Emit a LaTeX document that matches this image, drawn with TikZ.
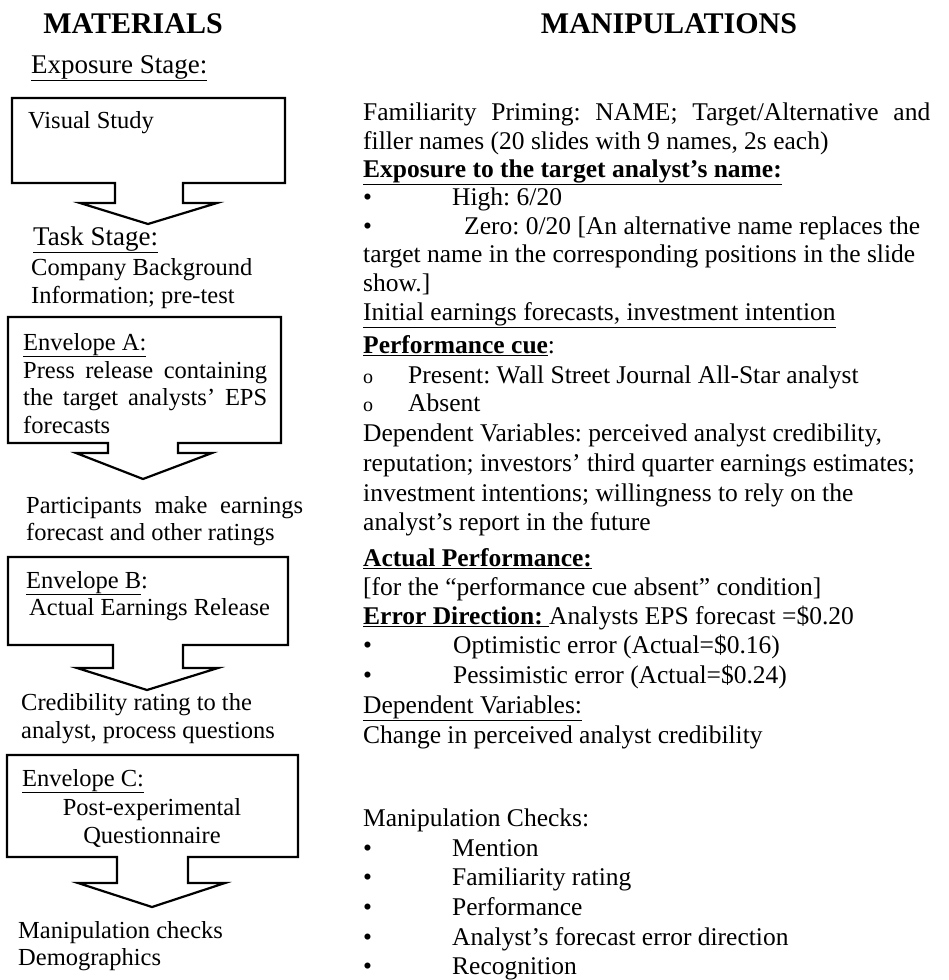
\documentclass[tikz,border=0pt]{standalone}
\usepackage{fontspec}
\setmainfont{Liberation Serif}
\frenchspacing
\begin{document}
\begin{tikzpicture}[x=1pt, y=-1pt, line join=miter,
    ttl/.style={font=\bfseries\fontsize{30}{36}\selectfont, anchor=base, inner sep=0pt},
    stage/.style={font=\fontsize{27}{32}\selectfont, anchor=base west, inner sep=0pt},
    lft/.style={font=\fontsize{24.5}{29}\selectfont, anchor=base west, inner sep=0pt},
    rgt/.style={font=\fontsize{25.5}{29}\selectfont, anchor=base west, inner sep=0pt},
    env/.style={draw, line width=2.2pt}]
  \useasboundingbox (0,0) rectangle (949,980);
  % column titles
  \node[ttl] (mat) at (133,33) {MATERIALS};
  \node[ttl] (man) at (669,33) {MANIPULATIONS};
  % envelopes with their arrows
  \draw[env] (12,98) -- (285,98) -- (285,183) -- (183,183) -- (183,203) -- (217,203) -- (148,224)
    -- (80,203) -- (115,203) -- (115,183) -- (12,183) -- cycle;
  \draw[env] (8,317) -- (281,317) -- (281,443) -- (178,443) -- (178,453) -- (212,453) -- (143,479)
    -- (76,453) -- (108,453) -- (108,443) -- (8,443) -- cycle;
  \draw[env] (8,557) -- (288,557) -- (288,645) -- (183,645) -- (183,668) -- (218,668) -- (147,690)
    -- (77,668) -- (113,668) -- (113,645) -- (8,645) -- cycle;
  \draw[env] (7,755) -- (298,755) -- (298,857) -- (188,857) -- (188,883) -- (225,883) -- (152,907)
    -- (78,883) -- (117,883) -- (117,857) -- (7,857) -- cycle;
  % materials
  \node[stage] (expo) at (31,73) {\underline{Exposure Stage:}};
  \node[lft] (vis) at (28,128) {Visual Study};
  \node[stage] (task) at (33,245) {\underline{Task Stage:}};
  \node[lft] (comp1) at (31,275) {Company Background};
  \node[lft] (comp2) at (31,303) {Information; pre-test};
  \node[lft] (enva) at (23,350) {\underline{Envelope A:}};
  \node[lft] (press1) at (23,378) {\makebox[244pt][s]{Press release containing}};
  \node[lft] (press2) at (23,405) {\makebox[244pt][s]{the target analysts’ EPS}};
  \node[lft] (press3) at (23,433) {forecasts};
  \node[lft] (part1) at (26,513) {\makebox[277pt][s]{Participants make earnings}};
  \node[lft] (part2) at (26,540) {forecast and other ratings};
  \node[lft] (envb) at (26,588) {\underline{Envelope B}:};
  \node[lft] (rel) at (29,615) {Actual Earnings Release};
  \node[lft] (cred1) at (21,710) {Credibility rating to the};
  \node[lft] (cred2) at (21,738) {analyst, process questions};
  \node[lft] (envc) at (22,786) {\underline{Envelope C:}};
  \node[lft, anchor=base] (post1) at (152,815) {Post-experimental};
  \node[lft, anchor=base] (post2) at (152,843) {Questionnaire};
  \node[lft] (chk1) at (18,938) {Manipulation checks};
  \node[lft] (chk2) at (18,965) {Demographics};
  % manipulations
  \node[rgt] (fam1) at (363,120) {\makebox[567pt][s]{Familiarity Priming: NAME; Target/Alternative and}};
  \node[rgt] (fam2) at (363,149) {filler names (20 slides with 9 names, 2s each)};
  \node[rgt] (expname) at (363,177) {\textbf{\underline{Exposure to the target analyst’s name:}}};
  \node[rgt] (high) at (363,205) {\makebox[89pt][l]{\textbullet}High: 6/20};
  \node[rgt] (zero) at (363,234) {\makebox[101pt][l]{\textbullet}Zero: 0/20 [An alternative name replaces the};
  \node[rgt] (zero2) at (363,262) {target name in the corresponding positions in the slide};
  \node[rgt] (zero3) at (363,291) {show.]};
  \node[rgt] (init) at (363,320) {\underline{Initial earnings forecasts, investment intention}};
  \node[rgt] (cue) at (363,353) {\textbf{\underline{Performance cue}}:};
  \node[rgt] (pres) at (363,383) {\makebox[45pt][l]{\fontsize{20}{24}\selectfont o}Present: Wall Street Journal All-Star analyst};
  \node[rgt] (abs) at (363,411) {\makebox[45pt][l]{\fontsize{20}{24}\selectfont o}Absent};
  \node[rgt] (dv1) at (363,441) {Dependent Variables: perceived analyst credibility,};
  \node[rgt] (dv2) at (363,471) {reputation; investors’ third quarter earnings estimates;};
  \node[rgt] (dv3) at (363,501) {investment intentions; willingness to rely on the};
  \node[rgt] (dv4) at (363,530) {analyst’s report in the future};
  \node[rgt] (act) at (363,566) {\textbf{\underline{Actual Performance:}}};
  \node[rgt] (cond) at (363,595) {[for the “performance cue absent” condition]};
  \node[rgt] (err) at (363,624) {\textbf{\underline{Error Direction:\ }}Analysts EPS forecast =\$0.20};
  \node[rgt] (opt) at (363,653) {\makebox[90pt][l]{\textbullet}Optimistic error (Actual=\$0.16)};
  \node[rgt] (pess) at (363,683) {\makebox[90pt][l]{\textbullet}Pessimistic error (Actual=\$0.24)};
  \node[rgt] (dv) at (363,713) {\underline{Dependent Variables:}};
  \node[rgt] (chg) at (363,743) {Change in perceived analyst credibility};
  \node[rgt] (mc) at (363,826) {Manipulation Checks:};
  \node[rgt] (mc1) at (363,856) {\makebox[89pt][l]{\textbullet}Mention};
  \node[rgt] (mc2) at (363,885) {\makebox[89pt][l]{\textbullet}Familiarity rating};
  \node[rgt] (mc3) at (363,915) {\makebox[89pt][l]{\textbullet}Performance};
  \node[rgt] (mc4) at (363,945) {\makebox[89pt][l]{\textbullet}Analyst’s forecast error direction};
  \node[rgt] (mc5) at (363,974) {\makebox[89pt][l]{\textbullet}Recognition};
\end{tikzpicture}
\end{document}
